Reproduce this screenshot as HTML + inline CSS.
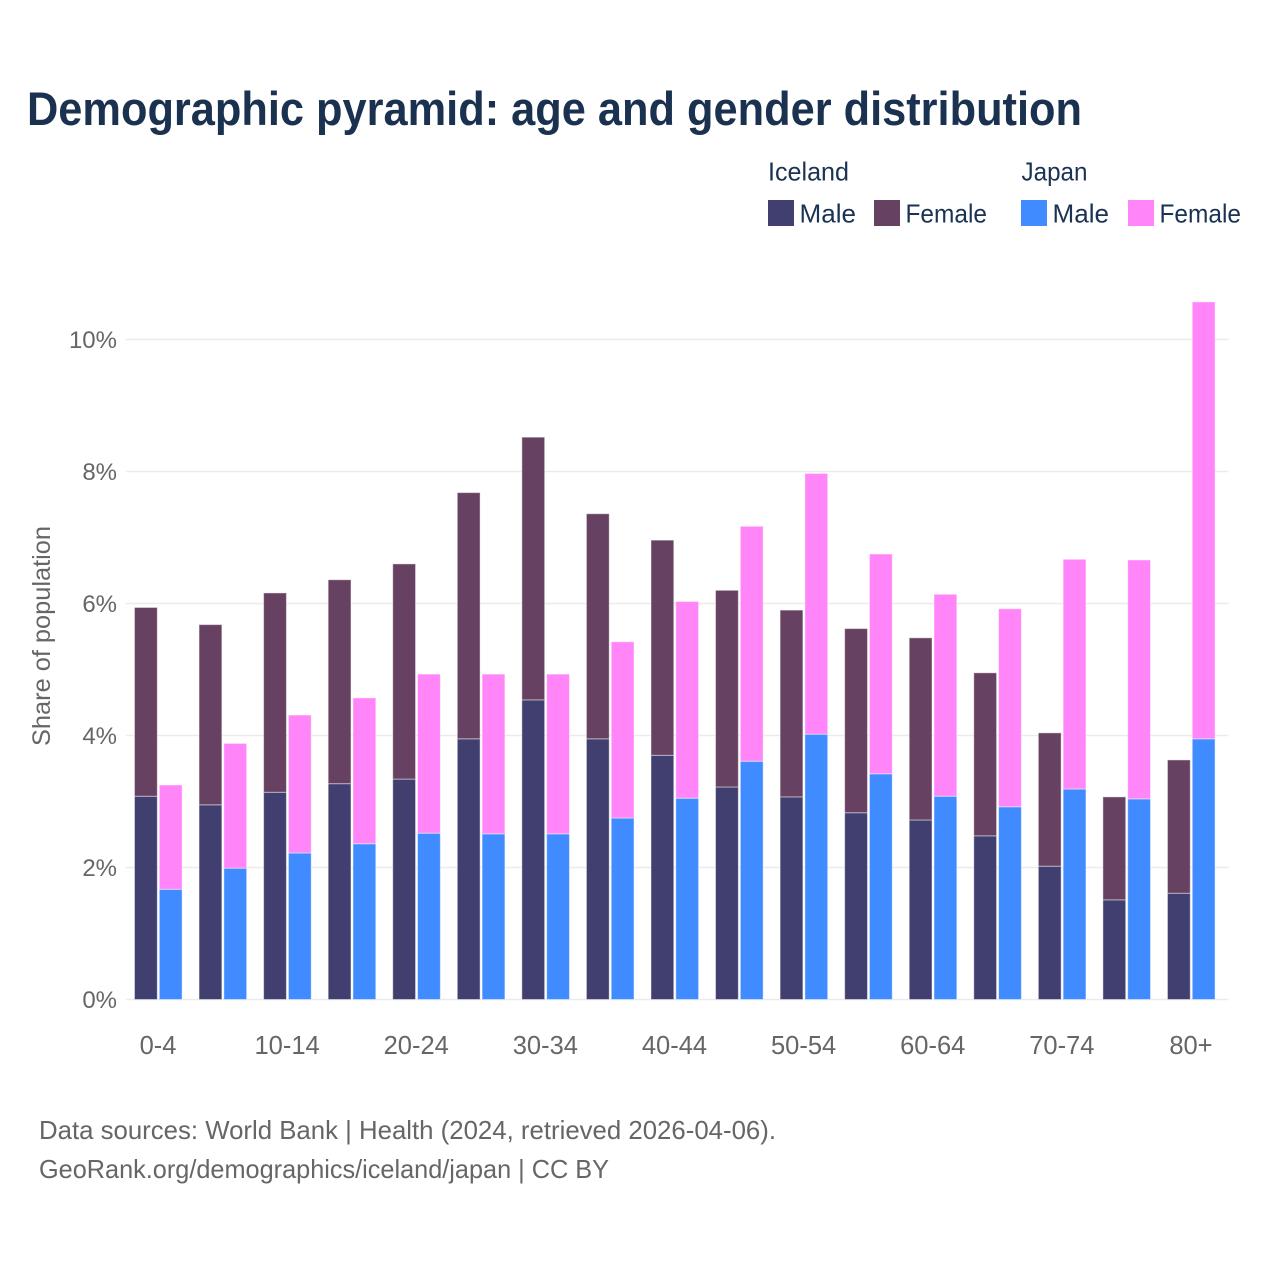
<!DOCTYPE html>
<html lang="en">
<head>
<meta charset="utf-8">
<title>Demographic pyramid: age and gender distribution</title>
<style>
html,body{margin:0;padding:0;background:#fff;}
svg{display:block;font-family:"Liberation Sans",Arial,sans-serif;}
</style>
</head>
<body>
<svg id="chart" xmlns="http://www.w3.org/2000/svg" width="1280" height="1280" viewBox="0 0 1280 1280">
  <text x="27" y="125" font-size="47" font-weight="700" fill="#1a3150" textLength="1055" lengthAdjust="spacingAndGlyphs">Demographic pyramid: age and gender distribution</text>

  <g font-size="26" fill="#1a3254">
    <text x="768" y="180.5" textLength="81" lengthAdjust="spacingAndGlyphs">Iceland</text>
    <text x="1021.5" y="180.5" textLength="66" lengthAdjust="spacingAndGlyphs">Japan</text>
    <rect x="768" y="200" width="26" height="26" fill="#413f70"/>
    <text x="799.5" y="222.5" textLength="56.5" lengthAdjust="spacingAndGlyphs">Male</text>
    <rect x="874" y="200" width="26" height="26" fill="#674161"/>
    <text x="905.5" y="222.5" textLength="81.5" lengthAdjust="spacingAndGlyphs">Female</text>
    <rect x="1021" y="200" width="26" height="26" fill="#3f8bff"/>
    <text x="1052.5" y="222.5" textLength="56.5" lengthAdjust="spacingAndGlyphs">Male</text>
    <rect x="1128" y="200" width="26" height="26" fill="#ff85f9"/>
    <text x="1159.5" y="222.5" textLength="81.5" lengthAdjust="spacingAndGlyphs">Female</text>
  </g>

  <text transform="translate(50,746) rotate(-90)" font-size="25" fill="#666666" textLength="220" lengthAdjust="spacingAndGlyphs">Share of population</text>

  <g id="grid"></g>
  <g id="y-labels"></g>
  <g id="bars"></g>
  <g id="x-labels"></g>

  <text x="39" y="1139" font-size="26" fill="#666666" textLength="737" lengthAdjust="spacingAndGlyphs">Data sources: World Bank | Health (2024, retrieved 2026-04-06).</text>
  <text x="39" y="1178" font-size="26" fill="#666666" textLength="570" lengthAdjust="spacingAndGlyphs">GeoRank.org/demographics/iceland/japan | CC BY</text>
</svg>
<script>
const categories = ["0-4","5-9","10-14","15-19","20-24","25-29","30-34","35-39","40-44","45-49","50-54","55-59","60-64","65-69","70-74","75-79","80+"];
const icelandMale = [3.08,2.95,3.14,3.27,3.34,3.95,4.54,3.95,3.70,3.22,3.07,2.83,2.72,2.48,2.02,1.51,1.61];
const icelandFemale = [2.86,2.73,3.02,3.09,3.26,3.73,3.98,3.41,3.26,2.98,2.83,2.79,2.76,2.47,2.02,1.56,2.02];
const japanMale = [1.67,1.99,2.22,2.36,2.52,2.51,2.51,2.75,3.05,3.61,4.02,3.42,3.08,2.92,3.19,3.04,3.95];
const japanFemale = [1.58,1.89,2.09,2.21,2.41,2.42,2.42,2.67,2.98,3.56,3.95,3.33,3.06,3.00,3.48,3.62,6.62];
const yTicks = [0,2,4,6,8,10];

const NS = "http://www.w3.org/2000/svg";
const plotLeft = 126, plotRight = 1228.5, y0 = 999.5, pxPerUnit = 66;
const step = 64.56, firstCenter = 158.3, barW = 22.8, gap = 1;

function yScale(v){ return y0 - v * pxPerUnit; }
function xCenter(i){ return firstCenter + i * step; }

const gridG = document.getElementById("grid");
const yG = document.getElementById("y-labels");
yTicks.forEach(function(t){
  const line = document.createElementNS(NS, "line");
  
  
  line.setAttribute("x1", plotLeft);
  line.setAttribute("x2", plotRight);
  line.setAttribute("y1", yScale(t));
  line.setAttribute("y2", yScale(t));
  line.setAttribute("stroke", "#ebebeb");
  line.setAttribute("stroke-width", "1.4");
  gridG.appendChild(line);

  const label = document.createElementNS(NS, "text");
  
  
  label.setAttribute("x", 117);
  label.setAttribute("y", yScale(t) + 8.5);
  label.setAttribute("text-anchor", "end");
  label.setAttribute("font-size", "24");
  label.setAttribute("fill", "#666666");
  label.textContent = t + "%";
  yG.appendChild(label);
});

const barsG = document.getElementById("bars");
function addBar(x, base, value, fill){
  const r = document.createElementNS(NS, "rect");
  
  
  r.setAttribute("x", x);
  r.setAttribute("y", yScale(base + value));
  r.setAttribute("width", barW);
  r.setAttribute("height", value * pxPerUnit);
  r.setAttribute("fill", fill);
  r.setAttribute("stroke", "rgba(255,255,255,0.45)");
  r.setAttribute("stroke-width", "1");
  barsG.appendChild(r);
}
categories.forEach(function(c, i){
  const cx = xCenter(i);
  const xa = cx - gap - barW, xb = cx + gap;
  addBar(xa, 0, icelandMale[i], "#413f70");
  addBar(xa, icelandMale[i], icelandFemale[i], "#674161");
  addBar(xb, 0, japanMale[i], "#3f8bff");
  addBar(xb, japanMale[i], japanFemale[i], "#ff85f9");
});

const xG = document.getElementById("x-labels");
categories.forEach(function(c, i){
  if (i % 2 !== 0) return;
  const label = document.createElementNS(NS, "text");
  
  
  label.setAttribute("x", xCenter(i) - 0.3);
  label.setAttribute("y", 1054);
  label.setAttribute("text-anchor", "middle");
  label.setAttribute("font-size", "25.5");
  label.setAttribute("fill", "#666666");
  label.textContent = c;
  xG.appendChild(label);
});
</script>
</body>
</html>
